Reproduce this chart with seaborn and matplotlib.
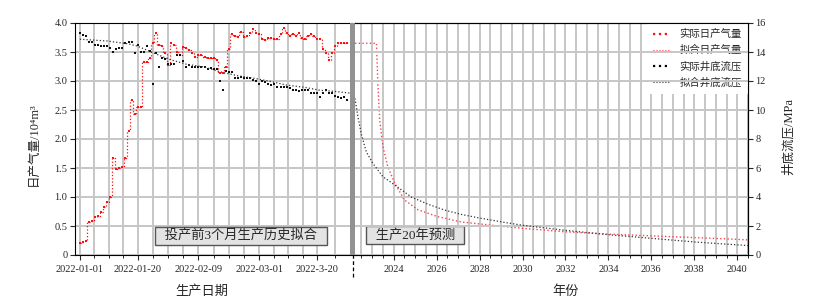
import pandas as pd
import numpy as np
import matplotlib
matplotlib.use('Agg')
import matplotlib.pyplot as plt
from matplotlib.lines import Line2D
import seaborn as sns

# history: daily data from 2022-01-01
hist_start = '2022-01-01'
gas_actual = [0.20, 0.22, 0.25, 0.57, 0.58, 0.66, 0.67, 0.75, 0.82, 0.92,
              1.00, 1.67, 1.48, 1.50, 1.51, 1.68, 2.13, 2.67, 2.43, 2.56,
              2.56, 3.32, 3.33, 3.40, 3.66, 3.83, 3.62, 3.60, 3.48, 3.28,
              3.65, 3.62, 3.50, 3.45, 3.59, 3.57, 3.53, 3.48, 3.42, 3.45,
              3.45, 3.42, 3.39, 3.39, 3.39, 3.36, 3.13, 3.13, 3.25, 3.55,
              3.81, 3.78, 3.76, 3.85, 3.76, 3.77, 3.82, 3.89, 3.82, 3.81,
              3.72, 3.71, 3.75, 3.75, 3.72, 3.73, 3.81, 3.91, 3.82, 3.78,
              3.81, 3.78, 3.82, 3.75, 3.72, 3.78, 3.81, 3.78, 3.72, 3.72,
              3.56, 3.48, 3.37, 3.48, 3.60, 3.66, 3.65, 3.65, 3.65]
pres_actual = [15.3, 15.2, 15.1, 14.7, 14.7, 14.5, 14.5, 14.4, 14.4, 14.4,
               14.3, 14.0, 14.2, 14.3, 14.3, 14.6, 14.7, 14.7, 13.9, 14.5,
               14.0, 14.0, 14.4, 14.1, 11.8, 13.9, 13.0, 13.6, 13.5, 13.2,
               13.2, 13.2, 13.8, 13.8, 13.4, 13.0, 13.1, 13.0, 13.0, 13.0,
               13.0, 13.0, 12.8, 12.9, 12.8, 12.8, 12.0, 11.4, 12.7, 12.6,
               12.6, 12.2, 12.2, 12.3, 12.2, 12.2, 12.2, 12.1, 12.0, 11.8,
               12.0, 11.9, 11.8, 11.7, 11.8, 11.6, 11.6, 11.6, 11.6, 11.5,
               11.4, 11.4, 11.3, 11.4, 11.4, 11.4, 11.2, 11.2, 11.2, 10.9,
               11.2, 11.4, 11.2, 11.2, 11.0, 10.9, 10.8, 10.9, 10.7]

# fitted bottom-hole pressure over the history period
fit_hist_dates = ['2022-01-01', '2022-01-10', '2022-01-17', '2022-01-20', '2022-01-25',
                  '2022-01-30', '2022-02-05', '2022-02-11', '2022-02-16', '2022-02-22',
                  '2022-02-27', '2022-03-05', '2022-03-10', '2022-03-16', '2022-03-21',
                  '2022-03-26', '2022-03-31']
pres_fit_hist = [14.88, 14.76, 14.56, 14.40, 13.96, 13.52, 13.16, 12.96, 12.64, 12.36,
                 12.20, 11.96, 11.72, 11.56, 11.36, 11.28, 11.16]

# 20-year forecast
fc_gas_years = [2022.2, 2023.2, 2023.27, 2023.35, 2023.5, 2023.73, 2024.05, 2024.5, 2025.13,
                2026.06, 2027.15, 2029.16, 2030, 2032, 2034, 2036, 2038, 2040, 2040.5]
gas_fit_fc = [3.65, 3.65, 2.9, 2.33, 1.87, 1.52, 1.24, 0.95, 0.78,
              0.66, 0.57, 0.49, 0.46, 0.40, 0.36, 0.33, 0.30, 0.27, 0.26]
fc_pres_years = [2022.2, 2022.34, 2022.5, 2022.73, 2023.04, 2023.5, 2024.05, 2024.82, 2025.6,
                 2026.37, 2027.15, 2027.92, 2029.16, 2030, 2032, 2034, 2036, 2038, 2040, 2040.5]
pres_fit_fc = [10.8, 9.5, 8.3, 7.1, 6.3, 5.4, 4.83, 4.0, 3.5,
               3.1, 2.8, 2.57, 2.25, 2.05, 1.7, 1.4, 1.15, 0.9, 0.7, 0.65]

date_ticks = ['2022-01-01', '2022-01-20', '2022-02-09', '2022-03-01', '2022-03-20']
date_labels = ['2022-01-01', '2022-01-20', '2022-02-09', '2022-03-01', '2022-3-20']
legend_labels = ['实际日产气量', '拟合日产气量', '实际井底流压', '拟合井底流压']

sns.set_style('ticks')
plt.rcParams['font.family'] = ['Liberation Serif', 'Noto Sans CJK SC', 'DejaVu Sans']
plt.rcParams['axes.unicode_minus'] = False

hist_dates = pd.date_range(hist_start, periods=len(gas_actual), freq='D')
fit_dates = pd.to_datetime(fit_hist_dates)
t0 = pd.Timestamp(hist_start)
day = lambda d: t0 + pd.Timedelta(days=d)

fig = plt.figure(figsize=(8.38, 3.06), dpi=100)
gs = fig.add_gridspec(1, 2, width_ratios=[280, 393], wspace=0,
                      left=75/838, right=748/838, top=1-23/306, bottom=1-255/306)
ax1 = fig.add_subplot(gs[0])
ax2 = fig.add_subplot(gs[1])
ax1r = ax1.twinx()
ax2r = ax2.twinx()

red = '#ff1010'
red_fit = '#ff4050'
grid_kw = dict(color='#c6c6c6', lw=1.4)

# history panel
sns.lineplot(x=hist_dates, y=gas_actual, ax=ax1, color=red, linestyle=':', lw=0.9,
             drawstyle='steps-mid', marker='s', markersize=1.7, markeredgewidth=0, legend=False)
sns.scatterplot(x=hist_dates, y=pres_actual, ax=ax1r, marker='s', s=2.8, color='#111111',
                linewidth=0, legend=False)
sns.lineplot(x=fit_dates, y=pres_fit_hist, ax=ax1r, color='#333333', linestyle=':', lw=0.9,
             legend=False)

ax1.set_xlim(day(-1.6), day(90.5))
ax1.set_ylim(0, 4)
ax1r.set_ylim(0, 16)
ax1.set_yticks(np.arange(0, 4.01, 0.5))
ax1.set_yticklabels(['0'] + [f'{v:.1f}' for v in np.arange(0.5, 4.01, 0.5)])
ax1.set_xticks(pd.to_datetime(date_ticks), date_labels)
ax1.set_xticks([day(d) for d in [4.75, 9.5, 14.25, 24, 29, 34, 44, 49, 54, 63.75, 68.5, 73.25, 84]],
               minor=True)
ax1.grid(True, which='both', axis='x', **grid_kw)
ax1.grid(True, which='major', axis='y', **grid_kw)
ax1.axvspan(day(88.9), day(90.5), color='#929292', lw=0, zorder=3)
ax1.axvline(day(89.7), ymin=-0.095, ymax=0, color='black', lw=0.9, ls=(0, (3, 2)), clip_on=False)
ax1.text(day(53), 0.335, '  投产前3个月生产历史拟合  ', ha='center', va='center', fontsize=9.5,
         bbox=dict(boxstyle='square,pad=0.2', fc='#e3e3e3', ec='#555555', lw=1), zorder=5)
ax1.set_xlabel('生产日期', fontsize=9.5)
ax1.xaxis.set_label_coords(0.454, -0.13)
ax1.set_ylabel('日产气量/10⁴m³', fontsize=9)
ax1.yaxis.set_label_coords(-0.125, 0.48)
ax1.spines['right'].set_visible(False)
for s in ax1r.spines.values():
    s.set_visible(False)
ax1r.tick_params(right=False, labelright=False)
ax1r.set_ylabel('')

# forecast panel
sns.lineplot(x=fc_gas_years, y=gas_fit_fc, ax=ax2, color=red_fit, linestyle=':', lw=1,
             legend=False)
sns.lineplot(x=fc_pres_years, y=pres_fit_fc, ax=ax2r, color='#333333', linestyle=':', lw=0.9,
             legend=False)
ax2.set_xlim(2022.2, 2040.5)
ax2.set_ylim(0, 4)
ax2r.set_ylim(0, 16)
ax2.set_yticks([])
ax2.set_xticks(range(2024, 2041, 2))
ax2.set_xticks(np.arange(2022.5, 2040.6, 0.5), minor=True)
ax2.grid(True, which='both', axis='x', **grid_kw)
ax2r.set_yticks(range(0, 17, 2))
ax2r.grid(True, which='major', axis='y', **grid_kw)
ax2.spines['left'].set_visible(False)
ax2r.spines['left'].set_visible(False)
ax2.text(2025.01, 0.34, '  生产20年预测  ', ha='center', va='center', fontsize=9.5,
         bbox=dict(boxstyle='square,pad=0.2', fc='#e3e3e3', ec='#555555', lw=1), zorder=5)
ax2.set_xlabel('年份', fontsize=9.5)
ax2.xaxis.set_label_coords(0.537, -0.13)
ax2r.set_ylabel('井底流压/MPa', fontsize=9)
ax2r.yaxis.set_label_coords(1.088, 0.51)

handles = [Line2D([], [], color=red, ls=':', lw=1.6),
           Line2D([], [], color=red_fit, ls=':', lw=0.8),
           Line2D([], [], color='black', ls=':', lw=1.6),
           Line2D([], [], color='#333333', ls=':', lw=0.8)]
ax2.legend(handles, legend_labels, loc='upper right', bbox_to_anchor=(1, 1), fontsize=7.5,
           frameon=True, facecolor='white', edgecolor='none', framealpha=1, borderaxespad=0,
           handlelength=1.6, handletextpad=0.9, labelspacing=0.55, borderpad=0.6, fancybox=False)

for ax in (ax1, ax2, ax2r):
    ax.tick_params(which='major', direction='out', length=3.5, width=0.8, labelsize=7.5, pad=2)
    ax.tick_params(which='minor', direction='out', length=2.5, width=0.7)
    for s in ax.spines.values():
        s.set_linewidth(0.8)
        s.set_color('black')
ax1.tick_params(axis='x', pad=4)
ax2.tick_params(axis='x', pad=4)

fig.savefig('out.png', dpi=100)
